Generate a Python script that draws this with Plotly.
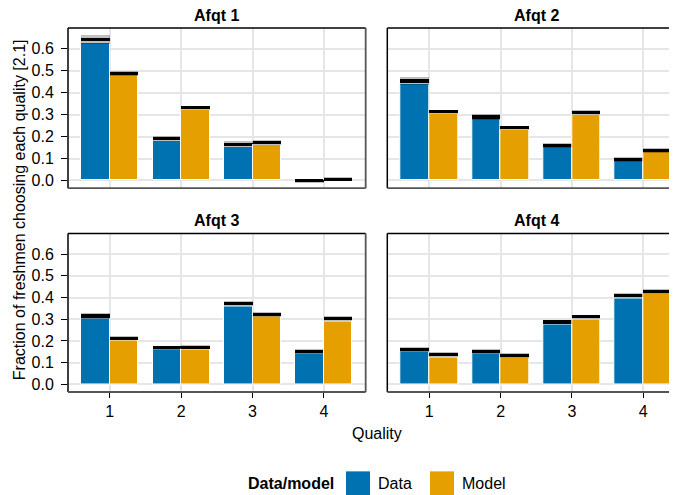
import plotly.graph_objects as go

# ---------------- data ----------------
qualities = [1, 2, 3, 4]
panel_titles = ["Afqt 1", "Afqt 2", "Afqt 3", "Afqt 4"]
series_names = ["Data", "Model"]

# bar heights (fraction choosing each quality)
data_value = [
    [0.626, 0.178, 0.154, 0.001],
    [0.440, 0.280, 0.152, 0.087],
    [0.303, 0.159, 0.358, 0.141],
    [0.150, 0.141, 0.275, 0.395],
]
model_value = [
    [0.480, 0.323, 0.164, 0.005],
    [0.305, 0.231, 0.300, 0.128],
    [0.202, 0.162, 0.312, 0.292],
    [0.125, 0.122, 0.300, 0.418],
]
# point estimate marker (black band centre)
data_mark = [
    [0.642, 0.190, 0.165, -0.001],
    [0.453, 0.289, 0.160, 0.096],
    [0.313, 0.167, 0.369, 0.150],
    [0.159, 0.150, 0.285, 0.408],
]
model_mark = [
    [0.489, 0.332, 0.173, 0.005],
    [0.314, 0.241, 0.310, 0.137],
    [0.210, 0.169, 0.320, 0.301],
    [0.134, 0.131, 0.309, 0.427],
]
# interval (gray band)
data_lo = [
    [0.623, 0.178, 0.154, -0.010],
    [0.437, 0.277, 0.149, 0.085],
    [0.301, 0.158, 0.358, 0.139],
    [0.148, 0.139, 0.274, 0.395],
]
data_hi = [
    [0.664, 0.201, 0.178, 0.008],
    [0.472, 0.302, 0.171, 0.105],
    [0.326, 0.176, 0.381, 0.159],
    [0.168, 0.159, 0.295, 0.419],
]
model_lo = [
    [0.478, 0.321, 0.163, -0.003],
    [0.302, 0.230, 0.298, 0.126],
    [0.200, 0.159, 0.309, 0.291],
    [0.122, 0.121, 0.299, 0.416],
]
model_hi = [
    [0.499, 0.341, 0.184, 0.014],
    [0.323, 0.250, 0.320, 0.146],
    [0.219, 0.179, 0.329, 0.311],
    [0.145, 0.141, 0.318, 0.436],
]
y_ticks = [0.0, 0.1, 0.2, 0.3, 0.4, 0.5, 0.6]

# ---------------- style ----------------
FONT = "Liberation Sans, Arial, sans-serif"
FS = 16
BLUE = "#0072B2"
ORANGE = "#E69F00"
OFF = 8  # page body margin
W, H = 677 - OFF, 495 - OFF
ML, MR, MT = 68 - OFF, 0, 28 - OFF
MB = H - (391.7 - OFF)
BAND = 0.015
BARW = 0.4

x_domains = [[0.0, 0.4888], [0.5243, 1.0]]
y_domains = [[0.560, 1.0], [0.0, 0.4355]]
x_ranges = [[0.415, 4.585], [0.411, 4.474]]
y_range = [-0.035, 0.695]

PW = W - ML - MR
PH = H - MT - MB


def px_to_paper(px, py):
    """reference-page pixel -> paper coordinate"""
    return (px - OFF - ML) / PW, (H - MB - (py - OFF)) / PH


fig = go.Figure()
layout_axes = {}
shapes = []
annotations = []

for i, title in enumerate(panel_titles):
    r, c = divmod(i, 2)
    sfx = "" if i == 0 else str(i + 1)
    xa, ya = "x" + sfx, "y" + sfx
    series = [
        (data_value[i], data_mark[i], data_lo[i], data_hi[i], BLUE, -BARW),
        (model_value[i], model_mark[i], model_lo[i], model_hi[i], ORANGE, 0.0),
    ]
    for val, mark, lo, hi, col, off in series:
        fig.add_trace(go.Bar(
            x=qualities, y=val, offset=off, width=BARW, xaxis=xa, yaxis=ya,
            marker=dict(color=col, line=dict(color="white", width=1)),
            showlegend=False, hoverinfo="skip"))
        fig.add_trace(go.Bar(
            x=qualities, y=[h - l for l, h in zip(lo, hi)], base=lo,
            offset=off, width=BARW, xaxis=xa, yaxis=ya,
            marker=dict(color="rgba(0,0,0,0.25)", line=dict(width=0)),
            showlegend=False, hoverinfo="skip"))
        fig.add_trace(go.Bar(
            x=qualities, y=[BAND] * len(mark), base=[m - BAND / 2 for m in mark],
            offset=off, width=BARW, xaxis=xa, yaxis=ya,
            marker=dict(color="black", line=dict(width=0)),
            showlegend=False, hoverinfo="skip"))

    layout_axes["xaxis" + sfx] = dict(
        domain=x_domains[c], range=x_ranges[c], anchor=ya,
        tickvals=qualities, ticktext=[str(q) for q in qualities],
        showticklabels=(r == 1), ticks="outside" if r == 1 else "",
        ticklen=5, tickwidth=1.3, tickcolor="black",
        showgrid=True, gridcolor="#e6e6e6", gridwidth=1.5,
        zeroline=False, showline=False, fixedrange=True,
        tickfont=dict(family=FONT, size=FS, color="black"))
    layout_axes["yaxis" + sfx] = dict(
        domain=y_domains[r], range=y_range, anchor=xa,
        tickvals=y_ticks, ticktext=[f"{t:.1f}" for t in y_ticks],
        showticklabels=(c == 0), ticks="outside" if c == 0 else "",
        ticklen=6, tickwidth=1.3, tickcolor="black", ticklabelstandoff=4,
        showgrid=True, gridcolor="#e6e6e6", gridwidth=1.5,
        zeroline=False, showline=False, fixedrange=True,
        tickfont=dict(family=FONT, size=FS, color="black"))

    xd, yd = xa + " domain", ya + " domain"
    # frame
    shapes.append(dict(type="line", xref=xd, yref=yd, x0=0, x1=1, y0=1, y1=1,
                       line=dict(color="black", width=1.5), layer="above"))
    shapes.append(dict(type="line", xref=xd, yref=yd, x0=0, x1=0, y0=0, y1=1,
                       line=dict(color="black", width=1.5), layer="above"))
    shapes.append(dict(type="line", xref=xd, yref=yd, x0=0, x1=1, y0=0, y1=0,
                       line=dict(color="#555555", width=1.8), layer="above"))
    if c == 0:
        shapes.append(dict(type="line", xref=xd, yref=yd, x0=1, x1=1, y0=0, y1=1,
                           line=dict(color="#555555", width=1.8), layer="above"))
    annotations.append(dict(
        text=f"<b>{title}</b>", xref=xd, yref=yd,
        x=0.5 if c == 0 else (297.7 / 2) / 289.7,
        y=1, yanchor="bottom", yshift=2, showarrow=False,
        font=dict(family=FONT, size=FS, color="black")))

# axis titles
qx, qy = px_to_paper(376.5, 433)
annotations.append(dict(
    text="Quality", xref="paper", yref="paper", x=qx, y=qy,
    yanchor="middle", showarrow=False,
    font=dict(family=FONT, size=FS, color="black")))
fx, fy = px_to_paper(19, 210)
annotations.append(dict(
    text="Fraction of freshmen choosing each quality [2.1]", textangle=-90,
    xref="paper", yref="paper", x=fx, y=fy, xanchor="center", yanchor="middle",
    showarrow=False, font=dict(family=FONT, size=FS, color="black")))

# legend (drawn manually to match the large swatches)
lx, ly = px_to_paper(336, 483)
annotations.append(dict(
    text="<b>Data/model</b>", xref="paper", yref="paper", x=lx, y=ly,
    xanchor="right", yanchor="middle", showarrow=False,
    font=dict(family=FONT, size=FS, color="black")))
for name, col, x0 in [(series_names[0], BLUE, 346), (series_names[1], ORANGE, 430)]:
    ax0, ay0 = px_to_paper(x0, 471)
    ax1, ay1 = px_to_paper(x0 + 24, 495)
    shapes.append(dict(type="rect", xref="paper", yref="paper",
                       x0=ax0, x1=ax1, y0=ay1, y1=ay0,
                       fillcolor=col, line=dict(width=0)))
    tx, ty = px_to_paper(x0 + 30, 483)
    annotations.append(dict(
        text=name, xref="paper", yref="paper", x=tx, y=ty,
        xanchor="left", yanchor="middle", showarrow=False,
        font=dict(family=FONT, size=FS, color="black")))

fig.update_layout(
    width=W, height=H, barmode="overlay", bargap=0,
    margin=dict(l=ML, r=MR, t=MT, b=MB, pad=0),
    paper_bgcolor="white", plot_bgcolor="white",
    font=dict(family=FONT, size=FS, color="black"),
    showlegend=False, shapes=shapes, annotations=annotations,
    **layout_axes)

fig.write_html("out.html", config={"displayModeBar": False})
